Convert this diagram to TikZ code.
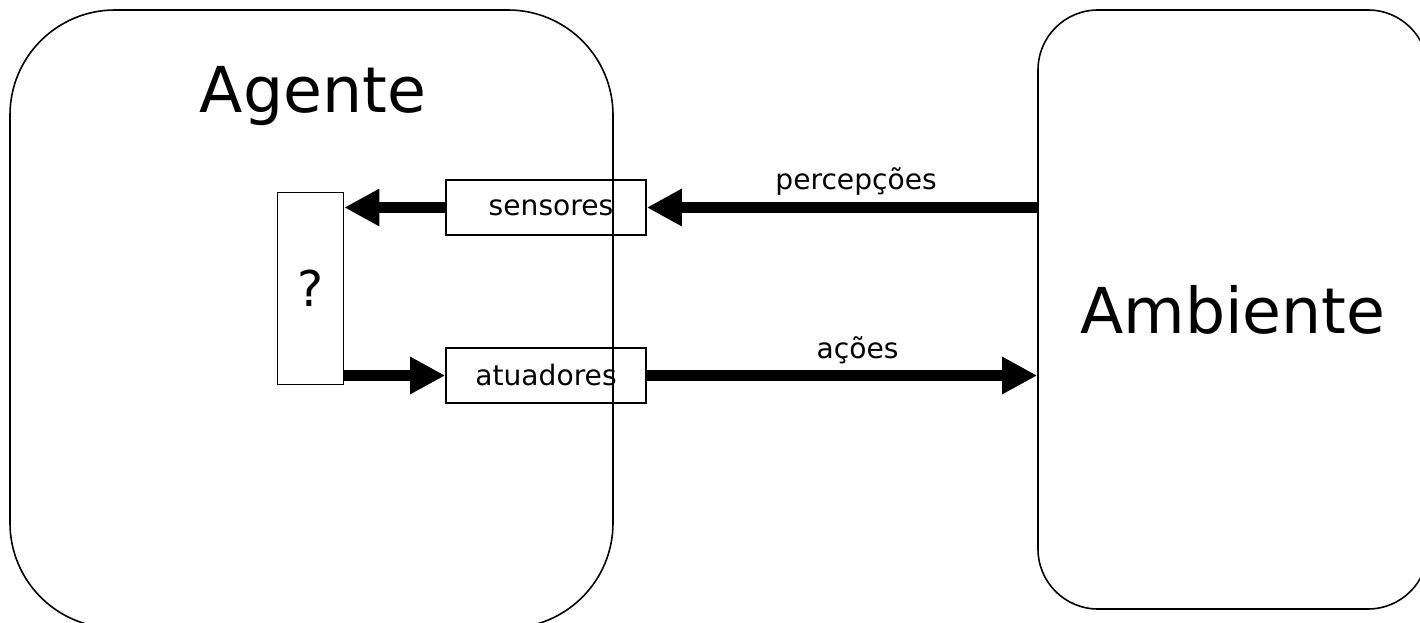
\documentclass[tikz,border=0pt]{standalone}
\usepackage{fontspec}
\setmainfont{DejaVu Sans}
\usetikzlibrary{positioning,arrows.meta}

\begin{document}
\begin{tikzpicture}
[x=0.2mm, y=-0.2mm,
 >={Triangle[length=20pt,width=20pt]},
 bloco/.style={shape=rectangle,draw,line width=0.9pt,inner sep=0pt,
   font=\fontsize{16}{19}\selectfont},
 mundo/.style={bloco,font=\fontsize{36}{43}\selectfont},
 seta/.style={->,line width=6.8pt},
 rotulo/.style={font=\fontsize{16}{19}\selectfont}]
\clip (0,0) rectangle (1420,623);
\node[mundo,rounded corners=21mm,minimum width=120.6mm,minimum height=123.6mm]
  (ag) at (311.5,319) {};
\node[font=\fontsize{36}{43}\selectfont] (agt) at (313,96) {Agente};
\node[mundo,rounded corners=12mm,minimum width=78mm,minimum height=119.8mm]
  (amb) at (1233,309.5) {Ambiente};
\node[bloco,minimum width=13.2mm,minimum height=38.4mm] (q) at (310.5,288.5)
  {\fontsize{28}{34}\selectfont ?};
\node[bloco,minimum width=40mm,minimum height=11mm] (sens) at (546,207.5) {\hspace{2mm}sensores};
\node[bloco,minimum width=40mm,minimum height=11mm] (atu) at (546,375.5) {atuadores};
\draw[seta] (sens.west) -- (sens.west -| q.east);
\draw[seta] (q.east |- atu.west) -- (atu.west);
\draw[seta] (amb.west |- sens.east) -- node[rotulo,above,pos=0.464] (per) {percepções} (sens.east);
\draw[seta] (atu.east) -- node[rotulo,above,pos=0.54] (aco) {ações} (atu.east -| amb.west);
\end{tikzpicture}
\end{document}
